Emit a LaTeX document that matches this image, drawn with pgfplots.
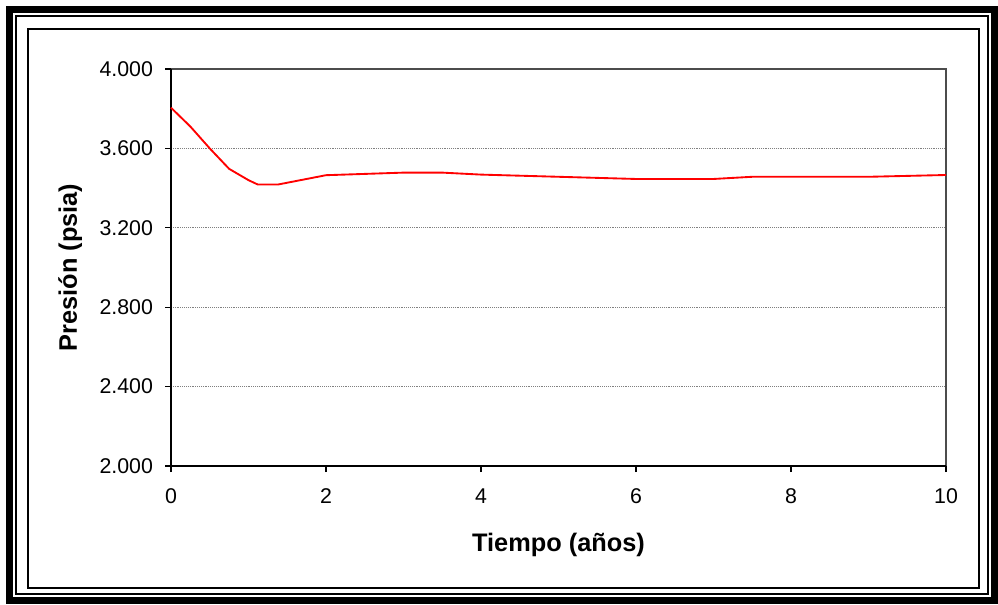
\documentclass[border=0pt]{standalone}
\usepackage{pgfplots}
\pgfplotsset{compat=1.18}
\usepackage{fontspec}
\setmainfont{Liberation Sans}

\begin{document}
\begin{tikzpicture}
\useasboundingbox (0,0) rectangle (748.5pt,453pt);

% frames, drawn in image pixel coordinates (y down)
\begin{scope}[x=0.75pt, y=-0.75pt, shift={(0,453pt)}]
  \draw[line width=5.25pt] (9.5,9.5) rectangle (994.5,600);
  \draw[line width=1.5pt] (16,16.5) rectangle (988,594);
  \draw[line width=1.5pt] (28,29) rectangle (979,588);
\end{scope}

\begin{axis}[
    at={(128.25pt,103.5pt)}, anchor=south west,
    scale only axis,
    width=581.25pt, height=297.75pt,
    xmin=0, xmax=10,
    ymin=2000, ymax=4000,
    xtick={0,2,...,10},
    ytick={2000,2400,...,4000},
    xtick pos=left, ytick pos=left,
    tick align=outside,
    major tick length=4.5pt,
    every tick/.style={black, line width=1pt},
    axis line style={draw=none},
    ymajorgrids=true,
    grid style={densely dotted, gray, line width=0.6pt},
    /pgf/number format/assume math mode=true,
    yticklabel style={/pgf/number format/fixed, /pgf/number format/precision=0,
                      /pgf/number format/1000 sep={.}, xshift=-5.5pt},
    ticklabel style={font=\fontsize{16}{19}\selectfont},
    xticklabel style={yshift=-9pt},
    xlabel={Tiempo (años)},
    ylabel={Presión (psia)},
    label style={font=\fontsize{19}{22}\selectfont\bfseries},
    xlabel style={at={(axis description cs:0.5,-0.199)}, anchor=center},
    ylabel style={at={(axis description cs:-0.130,0.5)}, anchor=center, rotate=0},
    clip=false,
]
\draw[gray!60!black, line width=1.2pt] (rel axis cs:0,1) -- (rel axis cs:1,1) -- (rel axis cs:1,0);
\draw[black, line width=1.5pt] (rel axis cs:0,1) -- (rel axis cs:0,0) -- (rel axis cs:1,0);

\addplot[red, line width=1.4pt, mark=none] coordinates {
  (0,3805)(0.25,3710)(0.5,3600)(0.75,3497)(1,3440)(1.12,3418)(1.38,3418)
  (2,3465)(3,3478)(3.5,3478)(4,3468)(5,3457)(6,3446)(7,3446)
  (7.5,3457)(8,3457)(9,3457)(10,3466)
};
\end{axis}
\end{tikzpicture}
\end{document}
